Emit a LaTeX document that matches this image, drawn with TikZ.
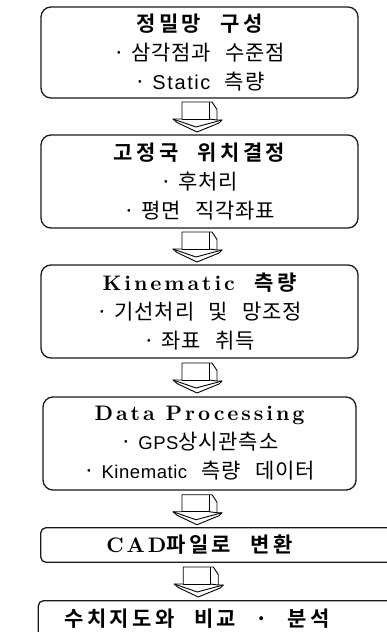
\documentclass[tikz,border=0pt]{standalone}
\usepackage{fontspec}
\usetikzlibrary{calc}
\newfontfamily\kr{Noto Sans CJK KR}[LetterSpace=4,WordSpace=2.6]
\newfontfamily\krb{Noto Sans CJK KR Bold}[LetterSpace=16,WordSpace=2.4]
\newfontfamily\latb{lmroman10-bold.otf}[LetterSpace=14]
\newfontfamily\lats{Liberation Sans}[LetterSpace=8]
\newfontfamily\latk{Liberation Sans}[LetterSpace=3]
\newcommand{\tb}{\krb\fontsize{21}{28.5}\selectfont}
\newcommand{\tl}[1]{{\latb\fontsize{21}{28.5}\selectfont #1}}
\newcommand{\lt}[1]{{\lats\fontsize{20}{28.5}\selectfont #1}}
\newcommand{\ltk}[1]{{\latk\fontsize{18.5}{28.5}\selectfont #1}}
\newcommand{\bul}{·\hspace{6pt}}
\begin{document}
\begin{tikzpicture}[x=1pt,y=1pt,
  boxline/.style={line width=1.3pt, draw=black!90},
  stagebox/.style={boxline, rounded corners=10pt, minimum width=317pt, align=center, inner sep=0pt,
     font=\kr\fontsize{21}{29}\selectfont},
  flatbox/.style={minimum width=317pt, align=center, inner sep=0pt, font=\kr\fontsize{21}{29}\selectfont},
  blockarrow/.pic={
    \draw[fill=white, line width=0.9pt, line join=round]
      (-15,14.5) -- (15,14.5) -- (20,7) -- (20,-3.5) -- (25,-3.5) -- (22,-6.5) -- (0,-15.5)
      -- (-20,-6) -- (-24,-2.5) -- (-15,-2.5) -- cycle;
    \draw[line width=0.9pt, line join=round] (12,14.5) -- (12,-2.5) -- (-15,-2.5);
    \draw[line width=0.9pt, line join=round] (12,-2.5) -- (20,-3.5);
    \draw[line width=0.9pt, line join=round] (-24,-2.5) -- (-1,-10.5) -- (25,-3.5);
  }]
\useasboundingbox (0,0) rectangle (387,-632);
\node[stagebox, minimum height=91pt] (b1) at (199.5,-52.5)
  {{\tb 정밀망 구성}\\ \bul 삼각점과 수준점\\ \bul\lt{Static} 측량};
\node[stagebox, minimum height=93pt] (b2) at (199.5,-181.5)
  {{\tb 고정국 위치결정}\\ \bul 후처리\\ \bul 평면 직각좌표};
\node[stagebox, minimum height=93pt] (b3) at (199.5,-311.5)
  {{\tb \tl{Kinematic} 측량}\\ \bul 기선처리 및 망조정\\ \bul 좌표 취득};
\node[stagebox, minimum width=313pt, minimum height=93pt] (b4) at (199.5,-443.5)
  {\tl{Data Processing}\\ \bul\ltk{GPS}상시관측소\\ \bul\ltk{Kinematic} 측량 데이터};
\node[flatbox, minimum height=34pt] (b5) at (199.5,-545)
  {{\tb \tl{CAD}파일로 변환}};
\node[flatbox, minimum height=36pt] (b6) at (197,-619)
  {{\tb 수치지도와 비교 · 분석}};
\draw[boxline, rounded corners=5pt] ($(b5.north east)+(35,0)$) -- (b5.north west) -- (b5.south west) -- ($(b5.south east)+(35,0)$);
\draw[boxline, rounded corners=5pt] ($(b6.north east)+(35,0)$) -- (b6.north west) -- ($(b6.south west)+(0,-20)$);
\pic at ($(b1.south)!0.5!(b2.north)+(-2.5,0)$) {blockarrow};
\pic at ($(b2.south)!0.5!(b3.north)+(-2.5,0)$) {blockarrow};
\pic at ($(b3.south)!0.5!(b4.north)+(-2.5,0)$) {blockarrow};
\pic at ($(b4.south)!0.5!(b5.north)+(-2.5,0)$) {blockarrow};
\pic at ($(b5.south)!0.5!(b6.north)+(0,0)$) {blockarrow};
\end{tikzpicture}
\end{document}
